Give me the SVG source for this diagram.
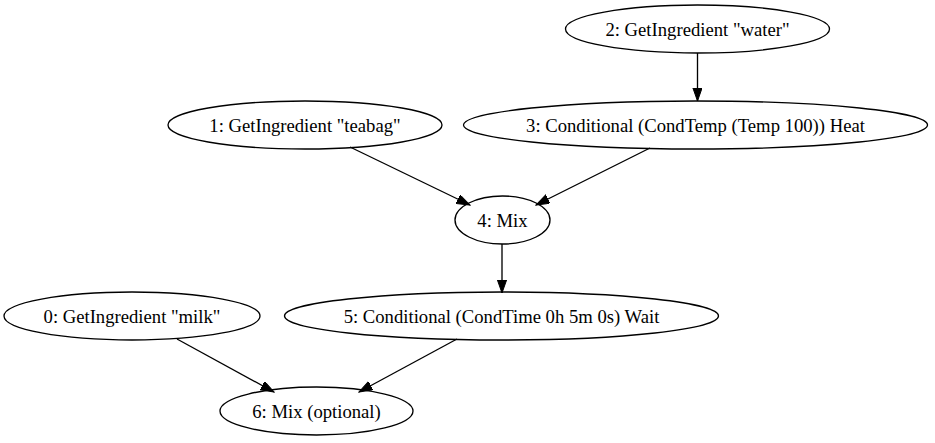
<svg xmlns="http://www.w3.org/2000/svg" width="935" height="443" viewBox="0 0 935 443">
<style>
.n ellipse{fill:none;stroke:#000;stroke-width:1.33}
.n text{font-family:"Liberation Serif","Times New Roman",serif;font-size:18.67px;text-anchor:middle;fill:#000}
.e line{stroke:#000;stroke-width:1.33;marker-end:url(#ah)}
</style>
<defs>
<marker id="ah" markerUnits="userSpaceOnUse" markerWidth="14" markerHeight="10" refX="13.3" refY="4.7" orient="auto">
<path d="M0,0 L13.3,4.7 L0,9.4 Z" fill="#000" stroke="#000" stroke-width="1"/>
</marker>
</defs>
<rect width="935" height="443" fill="#fff"/>
<g id="edges" class="e">
<line x1="697.5" y1="53" x2="697.5" y2="101"/>
<line x1="350" y1="147" x2="470" y2="205"/>
<line x1="650" y1="148" x2="536" y2="205"/>
<line x1="502" y1="244" x2="502" y2="293"/>
<line x1="177" y1="339" x2="274" y2="392"/>
<line x1="457" y1="339" x2="359" y2="392"/>
</g>
<g id="node2" class="n"><ellipse cx="697.5" cy="29" rx="132" ry="24"/><text x="697.5" y="35.5">2: GetIngredient "water"</text></g>
<g id="node3" class="n"><ellipse cx="695.5" cy="125" rx="232" ry="24"/><text x="695.5" y="131.5">3: Conditional (CondTemp (Temp 100)) Heat</text></g>
<g id="node1" class="n"><ellipse cx="305" cy="125" rx="137" ry="24"/><text x="305" y="131.5">1: GetIngredient "teabag"</text></g>
<g id="node4" class="n"><ellipse cx="502.5" cy="220" rx="47.5" ry="24"/><text x="502.5" y="226.5">4: Mix</text></g>
<g id="node0" class="n"><ellipse cx="132" cy="316" rx="128" ry="24"/><text x="132" y="322.5">0: GetIngredient "milk"</text></g>
<g id="node5" class="n"><ellipse cx="501.5" cy="316" rx="217" ry="24"/><text x="501.5" y="322.5">5: Conditional (CondTime 0h 5m 0s) Wait</text></g>
<g id="node6" class="n"><ellipse cx="316.5" cy="411" rx="96.5" ry="24"/><text x="316.5" y="417.5">6: Mix (optional)</text></g>
</svg>
